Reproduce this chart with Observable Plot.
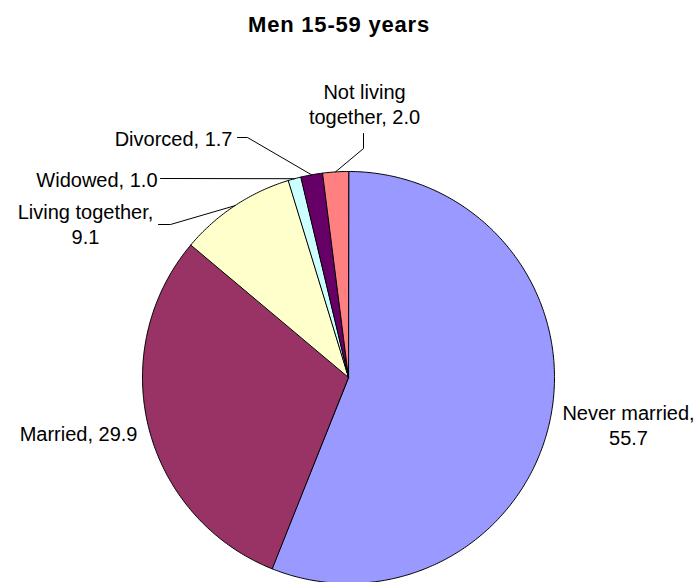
<!DOCTYPE html>
<html><head><meta charset="utf-8">
<script src="https://cdn.jsdelivr.net/npm/d3@7"></script>
<script src="https://cdn.jsdelivr.net/npm/@observablehq/plot@0.6"></script>
<style>
body{margin:0;background:#fff;font-family:Arial,"Liberation Sans",sans-serif;}
#title{width:698px;height:50px;line-height:50px;box-sizing:border-box;padding-right:20px;text-align:center;font-weight:bold;font-size:22px;letter-spacing:0.8px;color:#000;}
</style></head><body>
<div id="title"></div><div id="chart"></div>
<script>
// ---- data ----
const title = "Men 15-59 years";
const categories = ["Never married", "Married", "Living together", "Widowed", "Divorced", "Not living together"];
const values = [55.7, 29.9, 9.1, 1.0, 1.7, 2.0];
const colors = ["#9999FF", "#993366", "#FFFFCC", "#CCFFFF", "#660066", "#FF8080"];

// ---- layout (pixels within the svg) ----
const W = 698, H = 532, CX = 348, CY = 327, R = 206;
// label anchor, text alignment, how the label is broken, leader line elbows
const labelLayout = {
  "Never married":       {x: 628, y: 374, anchor: "middle", split: "value", leader: null},
  "Married":             {x: 137, y: 382, anchor: "end",    split: "none",  leader: null},
  "Living together":     {x: 85,  y: 173, anchor: "middle", split: "value", leader: [[170, 174], [158, 174]]},
  "Widowed":             {x: 157, y: 128, anchor: "end",    split: "none",  leader: [[160, 128]]},
  "Divorced":            {x: 232, y: 87,  anchor: "end",    split: "none",  leader: [[247, 87], [237, 87]]},
  "Not living together": {x: 364, y: 53,  anchor: "middle", split: "name",  leader: [[363, 98], [363, 83]]}
};

document.getElementById("title").textContent = title;

const data = categories.map((name, i) => ({name, value: values[i], color: colors[i]}));
const arcs = d3.pie().sort(null).value(d => d.value)(data);

const slicePts = [];
const leaderPts = [];
const labels = [];
arcs.forEach(s => {
  const name = s.data.name;
  const n = Math.max(6, Math.ceil((s.endAngle - s.startAngle) * 90));
  slicePts.push({name, color: s.data.color, x: CX, y: CY});
  for (let i = 0; i <= n; i++) {
    const a = s.startAngle + (s.endAngle - s.startAngle) * i / n;
    slicePts.push({name, color: s.data.color, x: CX + R * Math.sin(a), y: CY - R * Math.cos(a)});
  }
  const L = labelLayout[name];
  const mid = (s.startAngle + s.endAngle) / 2;
  if (L.leader) {
    leaderPts.push({name, x: CX + R * Math.sin(mid), y: CY - R * Math.cos(mid)});
    L.leader.forEach(([x, y]) => leaderPts.push({name, x, y}));
  }
  const v = s.data.value.toFixed(1);
  let text;
  if (L.split === "value") text = `${name},\n${v}`;
  else if (L.split === "name") text = name.replace(/^(Not living) /, "$1\n") + `, ${v}`;
  else text = `${name}, ${v}`;
  labels.push({name, x: L.x, y: L.y, anchor: L.anchor, text});
});

const textOpts = anchor => ({x: "x", y: "y", text: "text", textAnchor: anchor, lineAnchor: "middle",
  fontSize: 20, lineHeight: 1.27, fill: "#000", fontFamily: "Arial, 'Liberation Sans', sans-serif"});

const chart = Plot.plot({
  width: W, height: H, margin: 0,
  x: {domain: [0, W], range: [0, W], axis: null},
  y: {domain: [0, H], range: [0, H], axis: null},
  color: {type: "identity"},
  marks: [
    Plot.line(slicePts, {x: "x", y: "y", z: "name", fill: "color", stroke: "#000", strokeWidth: 1, curve: "linear-closed"}),
    Plot.line(leaderPts, {x: "x", y: "y", z: "name", stroke: "#000", strokeWidth: 1}),
    Plot.text(labels.filter(d => d.anchor === "middle"), textOpts("middle")),
    Plot.text(labels.filter(d => d.anchor === "end"), textOpts("end")),
    Plot.text(labels.filter(d => d.anchor === "start"), textOpts("start"))
  ]
});
document.getElementById("chart").appendChild(chart);
</script>
</body></html>
